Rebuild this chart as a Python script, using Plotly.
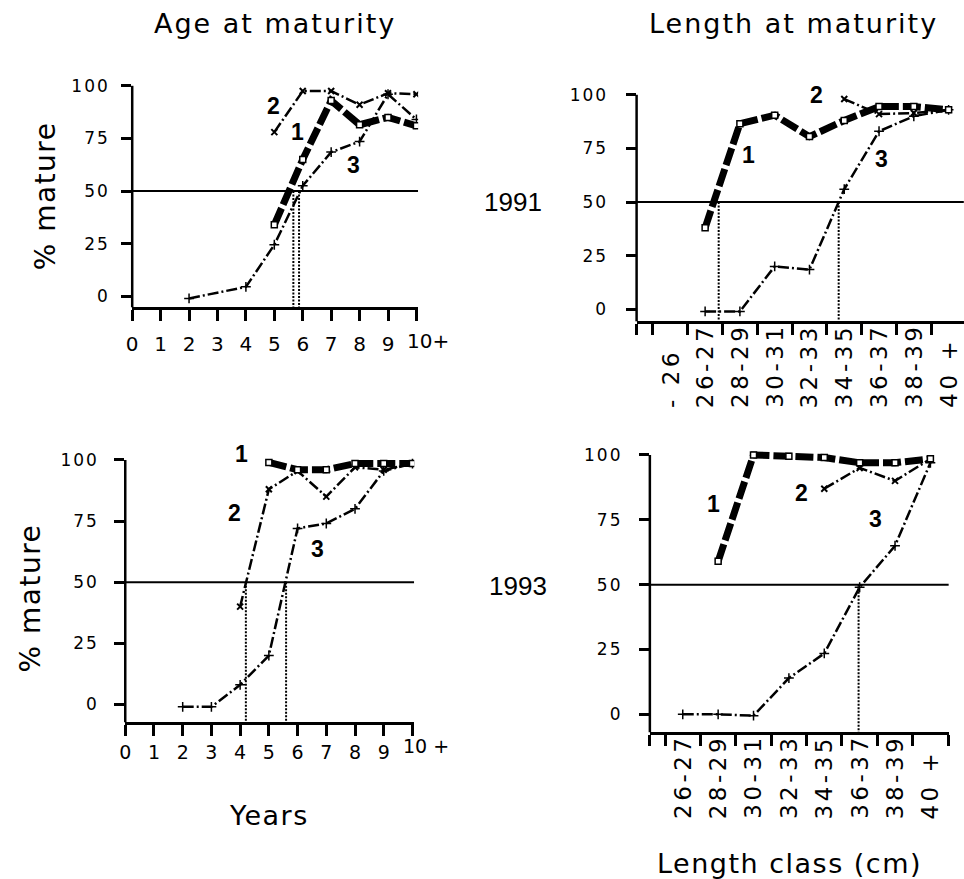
import plotly.graph_objects as go

# ------------------------------------------------------------------ data
ages = list(range(11))
age_labels_1991 = ["0", "1", "2", "3", "4", "5", "6", "7", "8", "9", "10+"]
age_labels_1993 = ["0", "1", "2", "3", "4", "5", "6", "7", "8", "9", "10 +"]

age91_g1 = [None, None, None, None, None, 34, 65, 93, 81.5, 85, 81]
age91_g2 = [None, None, None, None, None, 78, 97.5, 97.5, 91, 96.5, 96]
age91_g3 = [None, None, -1, None, 4.5, 24.5, 52.5, 68.5, 73.5, 96, 84]
age91_a50 = [5.67, 5.87]

len_classes_1991 = ["- 26", "26-27", "28-29", "30-31", "32-33", "34-35", "36-37", "38-39", "40 +"]
len91_g1 = [None, 38, 86.5, 90.5, 80.5, 88, 94.5, 94.5, 93]
len91_g2 = [None, None, None, None, None, 98, 91, 91.5, 93]
len91_g3 = [None, -1, -1, 20, 18.5, 56, 83, 90, 93]
len91_l50 = [1.39, 4.84]

age93_g1 = [None, None, None, None, None, 99, 96, 96, 98.5, 98.5, 98.5]
age93_g2 = [None, None, None, None, 40, 88, 95.5, 85, 97, 96, 98.5]
age93_g3 = [None, None, -1, -1, 8, 20, 72, 74, 80, 95.5, 98.5]
age93_a50 = [4.2, 5.6]

len_classes_1993 = ["26-27", "28-29", "30-31", "32-33", "34-35", "36-37", "38-39", "40 +"]
len93_g1 = [None, 59, 100, 99.5, 99, 97, 97, 98.5]
len93_g2 = [None, None, None, None, 87, 95, 90, 98.5]
len93_g3 = [0, 0, -0.5, 14, 23.5, 49, 65, 97]
len93_l50 = [4.97]

y_ticks = [0, 25, 50, 75, 100]
threshold = 50

# ------------------------------------------------------------------ layout helpers
W, H = 964, 879


def sp(text, ls):
    return f'<span style="letter-spacing:{ls}px">{text}</span>'


def domain(pa, va, pb, vb, r0, r1, total, vertical):
    s = (pb - pa) / (vb - va)
    p0 = pa + (r0 - va) * s
    p1 = pa + (r1 - va) * s
    if vertical:
        d = sorted([1 - p0 / total, 1 - p1 / total])
    else:
        d = sorted([p0 / total, p1 / total])
    return [max(0.0, d[0]), min(1.0, d[1])]


TXT = "DejaVu Sans"
HELV = "Liberation Sans"

panels = [
    dict(n="", x=ages, series=(age91_g1, age91_g2, age91_g3), a50=age91_a50,
         xpx=(127, 0, 413, 10), xr=(0, 10.06), ypx=(295, 0, 84, 100), yr=(-5.2, 104),
         cat=False, xlabels=age_labels_1991, ystand=8, xstand=6, xfs=20, lab_y=340),
    dict(n="2", x=list(range(len(len_classes_1991))), series=(len91_g1, len91_g2, len91_g3),
         a50=len91_l50, xpx=(668.5, 0, 948.5, 8), xr=(-0.97, 8.44), ypx=(308, 0, 93, 100),
         yr=(-5.6, 104), cat=True, xlabels=len_classes_1991, lab_bottom=409, ystand=14),
    dict(n="3", x=ages, series=(age93_g1, age93_g2, age93_g3), a50=age93_a50,
         xpx=(120, 0, 409, 10), xr=(0, 10.06), ypx=(704, 0, 459, 100), yr=(-7.35, 104),
         cat=False, xlabels=age_labels_1993, ystand=12, xstand=0, xfs=19, lab_y=746),
    dict(n="4", x=list(range(len(len_classes_1993))), series=(len93_g1, len93_g2, len93_g3),
         a50=len93_l50, xpx=(681, 0, 930.2, 7), xr=(-0.93, 7.52), ypx=(714, 0, 454, 100),
         yr=(-6.9, 104), cat=True, xlabels=len_classes_1993, lab_bottom=821, ystand=13),
]

g1_style = dict(mode="lines+markers", connectgaps=True,
                line=dict(color="black", width=7, dash="18px,4px"),
                marker=dict(symbol="square", size=6, color="white",
                            line=dict(color="black", width=1.5)))
g2_style = dict(mode="lines+markers", connectgaps=True,
                line=dict(color="black", width=2.5, dash="11px,3px,2px,3px"),
                marker=dict(symbol="x-thin", size=6, color="black",
                            line=dict(color="black", width=2)))
g3_style = dict(mode="lines+markers", connectgaps=True,
                line=dict(color="black", width=2.5, dash="11px,3px,2px,3px"),
                marker=dict(symbol="cross-thin", size=7, color="black",
                            line=dict(color="black", width=1.5)))

fig = go.Figure()
shapes = []
annotations = []

for p in panels:
    xa, ya = "x" + p["n"], "y" + p["n"]
    xkey, ykey = "xaxis" + p["n"], "yaxis" + p["n"]
    # threshold line
    fig.add_trace(go.Scatter(x=[p["xr"][0], p["xr"][1]], y=[threshold, threshold],
                             mode="lines", line=dict(color="black", width=2),
                             xaxis=xa, yaxis=ya, showlegend=False, hoverinfo="skip"))
    # 50% drop lines
    for v in p["a50"]:
        fig.add_trace(go.Scatter(x=[v, v], y=[threshold, p["yr"][0]], mode="lines",
                                 line=dict(color="black", width=2, dash="2px,1.5px"),
                                 xaxis=xa, yaxis=ya, showlegend=False, hoverinfo="skip"))
    # series (3, 2, 1 so the thick one is on top)
    for ys, st in zip(p["series"][::-1], (g3_style, g2_style, g1_style)):
        fig.add_trace(go.Scatter(x=p["x"], y=ys, xaxis=xa, yaxis=ya, showlegend=False, **st))

    xdom = domain(p["xpx"][0], p["xpx"][1], p["xpx"][2], p["xpx"][3], p["xr"][0], p["xr"][1], W, False)
    ydom = domain(p["ypx"][0], p["ypx"][1], p["ypx"][2], p["ypx"][3], p["yr"][0], p["yr"][1], H, True)

    xax = dict(domain=xdom, range=list(p["xr"]), anchor=ya, showgrid=False, zeroline=False,
               showline=True, linecolor="black", linewidth=2.5, ticks="outside",
               ticklen=11, tickwidth=2.5, tickcolor="black", fixedrange=True)
    if p["cat"]:
        bounds = [p["xr"][0]] + [i - 0.5 for i in range(len(p["x"]) + 1)]
        xax.update(tickmode="array", tickvals=bounds, showticklabels=False)
        for i, lab in enumerate(p["xlabels"]):
            annotations.append(dict(text=sp(lab, 3.5), x=i, xref=xa, y=1 - p["lab_bottom"] / H,
                                    yref="paper", textangle=-90, xanchor="center",
                                    yanchor="bottom", showarrow=False,
                                    font=dict(family=TXT, size=23, color="black")))
    else:
        # last label ("10+") hangs to the right of its tick, as in the original
        xax.update(tickmode="array", tickvals=p["x"], ticktext=p["xlabels"][:-1] + [""],
                   tickangle=0, tickfont=dict(family=TXT, size=p["xfs"], color="black"),
                   ticklabelstandoff=p["xstand"])
        annotations.append(dict(text=p["xlabels"][-1], x=p["x"][-1], xref=xa,
                                y=1 - p["lab_y"] / H, yref="paper", xanchor="left",
                                yanchor="middle", xshift=-11, showarrow=False,
                                font=dict(family=TXT, size=p["xfs"], color="black")))
    yax = dict(domain=ydom, range=list(p["yr"]), anchor=xa, showgrid=False, zeroline=False,
               showline=False, ticks="outside", ticklen=10, tickwidth=2.5, tickcolor="black",
               tickmode="array", tickvals=y_ticks, ticktext=[sp(str(t), 2) for t in y_ticks],
               tickfont=dict(family=TXT, size=17, color="black"),
               ticklabelstandoff=p["ystand"], fixedrange=True)
    fig.layout[xkey] = xax
    fig.layout[ykey] = yax
    # y axis line from the x axis up to 100
    top = (100 - p["yr"][0]) / (p["yr"][1] - p["yr"][0])
    shapes.append(dict(type="line", xref=xa + " domain", yref=ya + " domain",
                       x0=0, x1=0, y0=0, y1=top, line=dict(color="black", width=2.5)))


def ann(text, px, py, size, family=TXT, angle=0, bold=False):
    t = f"<b>{text}</b>" if bold else text
    return dict(text=t, x=px / W, y=1 - py / H, xref="paper", yref="paper", showarrow=False,
                textangle=angle, xanchor="center", yanchor="middle",
                font=dict(family=family, size=size, color="black"))


annotations += [
    ann(sp("Age at maturity", 2), 271, 22, 27),
    ann(sp("Length at maturity", 2), 792, 22, 27),
    ann(sp("% mature", 1.5), 40, 194, 28, angle=-90),
    ann(sp("% mature", 1.5), 25, 597, 28, angle=-90),
    ann(sp("Years", 1.5), 265, 815, 27),
    ann(sp("Length class (cm)", 1.5), 788, 863, 27),
    ann("1991", 510, 200, 26, family=HELV),
    ann("1993", 515, 585, 26, family=HELV),
    # series labels
    ann("2", 269, 104, 23, family=HELV, bold=True),
    ann("1", 293, 130, 23, family=HELV, bold=True),
    ann("3", 350, 163, 23, family=HELV, bold=True),
    ann("2", 816, 93, 23, family=HELV, bold=True),
    ann("1", 747, 153, 23, family=HELV, bold=True),
    ann("3", 881, 157, 23, family=HELV, bold=True),
    ann("1", 237, 453, 23, family=HELV, bold=True),
    ann("2", 230, 512, 23, family=HELV, bold=True),
    ann("3", 313, 548, 23, family=HELV, bold=True),
    ann("1", 712, 503, 23, family=HELV, bold=True),
    ann("2", 800, 492, 23, family=HELV, bold=True),
    ann("3", 875, 518, 23, family=HELV, bold=True),
]

fig.update_layout(width=W, height=H, autosize=False, margin=dict(l=0, r=0, t=0, b=0),
                  paper_bgcolor="white", plot_bgcolor="white", showlegend=False,
                  shapes=shapes, annotations=annotations,
                  font=dict(family=TXT, color="black"))

fig.write_html("out.html", config={"displayModeBar": False})
